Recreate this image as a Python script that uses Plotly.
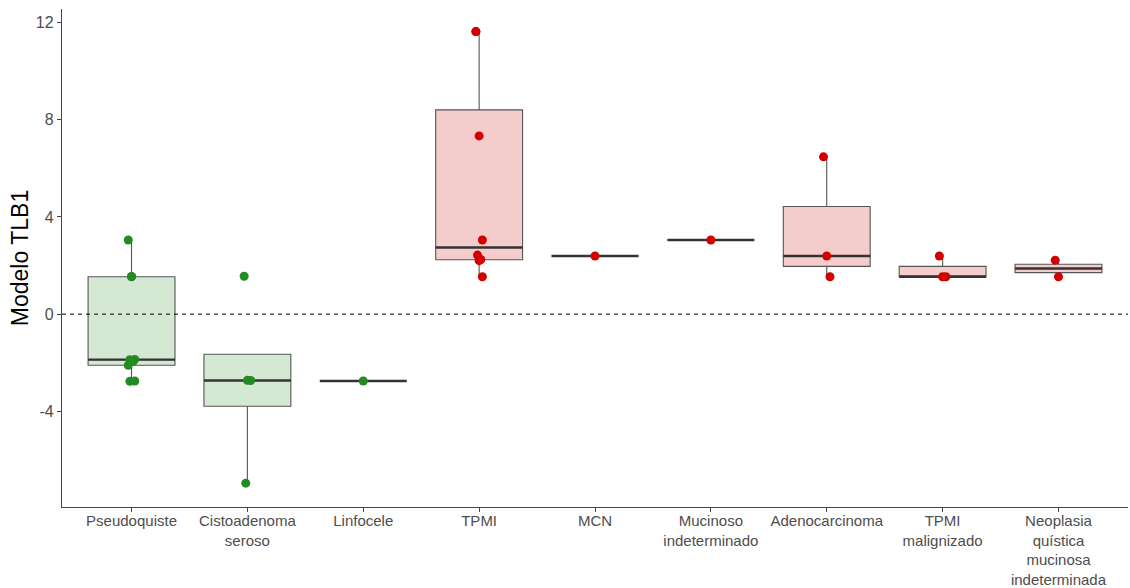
import numpy as np
import plotly.graph_objects as go

# Category labels (x axis) and which palette each belongs to
categories = [
    "Pseudoquiste",
    "Cistoadenoma<br>seroso",
    "Linfocele",
    "TPMI",
    "MCN",
    "Mucinoso<br>indeterminado",
    "Adenocarcinoma",
    "TPMI<br>malignizado",
    "Neoplasia<br>quística<br>mucinosa<br>indeterminada",
]
groups = ["benigno"] * 3 + ["mucinoso"] * 6

# Modelo TLB1 scores per category
pseudoquiste = [3.05, 1.55, -1.86, -1.87, -1.95, -2.10, 1.54, -2.75, -2.76]
cistoadenoma_seroso = [1.56, -2.72, -2.73, -6.95]
linfocele = [-2.75]
tpmi = [11.62, 7.33, 3.05, 2.43, 2.25, 11.62, 2.20, 1.54]
mcn = [2.39]
mucinoso_indeterminado = [3.05]
adenocarcinoma = [6.47, 2.39, 1.54]
tpmi_malignizado = [2.39, 1.54, 1.54]
neoplasia_quistica = [2.22, 1.54]

series = [
    pseudoquiste, cistoadenoma_seroso, linfocele, tpmi, mcn,
    mucinoso_indeterminado, adenocarcinoma, tpmi_malignizado, neoplasia_quistica,
]

y_ticks = [-4, 0, 4, 8, 12]

# Styling
FONT = "Liberation Sans, Arial, sans-serif"
FILL = {"benigno": "#d5e8d4", "mucinoso": "#f4cccc"}
POINT = {"benigno": "#228b22", "mucinoso": "#d40000"}
BOX_LINE = "#555555"
MEDIAN_LINE = "#333333"
BOX_WIDTH = 0.75


def box_stats(vals):
    """Quartiles (continuous type 7) and Tukey whisker ends."""
    v = np.sort(np.asarray(vals, dtype=float))
    q1, med, q3 = np.percentile(v, [25, 50, 75])
    iqr = q3 - q1
    lo = v[v >= q1 - 1.5 * iqr].min()
    hi = v[v <= q3 + 1.5 * iqr].max()
    return q1, med, q3, lo, hi


fig = go.Figure()

positions = list(range(1, len(categories) + 1))

# Boxes
for pos, vals, grp in zip(positions, series, groups):
    q1, med, q3, lo, hi = box_stats(vals)
    fig.add_trace(go.Box(
        x=[pos],
        q1=[q1], median=[med], q3=[q3],
        lowerfence=[lo], upperfence=[hi],
        width=BOX_WIDTH,
        fillcolor=FILL[grp],
        line=dict(color=BOX_LINE, width=1.1),
        whiskerwidth=0,
        boxpoints=False,
        showlegend=False,
        hoverinfo="skip",
    ))

# Thicker median bars
for pos, vals in zip(positions, series):
    med = box_stats(vals)[1]
    fig.add_trace(go.Scatter(
        x=[pos - BOX_WIDTH / 2, pos + BOX_WIDTH / 2],
        y=[med, med],
        mode="lines",
        line=dict(color=MEDIAN_LINE, width=2.4),
        showlegend=False,
        hoverinfo="skip",
    ))

# Individual observations, spread slightly sideways so overlaps stay visible
for pos, vals, grp in zip(positions, series, groups):
    n = len(vals)
    spread = np.array([((k * 7) % 5 - 2) * 0.014 for k in range(n)]) if n > 1 else np.zeros(1)
    fig.add_trace(go.Scatter(
        x=pos + spread,
        y=vals,
        mode="markers",
        marker=dict(color=POINT[grp], size=9, line=dict(width=0)),
        showlegend=False,
        hovertemplate="%{y:.2f}<extra></extra>",
    ))

# Reference line at zero
fig.add_shape(
    type="line", xref="paper", x0=0, x1=1, yref="y", y0=0, y1=0,
    line=dict(color="black", width=1, dash="4px,4px"),
    layer="above",
)

fig.update_layout(
    width=1130,
    height=588,
    margin=dict(l=62, r=2, t=9, b=81),
    paper_bgcolor="white",
    plot_bgcolor="white",
    font=dict(family=FONT, color="#4d4d4d"),
    xaxis=dict(
        range=[0.4, len(categories) + 0.6],
        tickvals=positions,
        ticktext=categories,
        tickangle=0,
        tickfont=dict(size=15, color="#4d4d4d"),
        ticklabelstandoff=-4,
        showline=True, linecolor="#444444", linewidth=1.3,
        ticks="outside", ticklen=4, tickcolor="#444444",
        showgrid=False, zeroline=False,
        automargin=False,
    ),
    yaxis=dict(
        range=[-7.93, 12.55],
        tickvals=y_ticks,
        ticktext=[str(t) for t in y_ticks],
        tickfont=dict(size=16, color="#4d4d4d"),
        showline=True, linecolor="#444444", linewidth=1.3,
        ticks="outside", ticklen=4, tickcolor="#444444",
        showgrid=False, zeroline=False,
        title=dict(text="Modelo TLB1", font=dict(size=23, color="black"), standoff=0),
        automargin=False,
    ),
)

fig.write_html("out.html")
